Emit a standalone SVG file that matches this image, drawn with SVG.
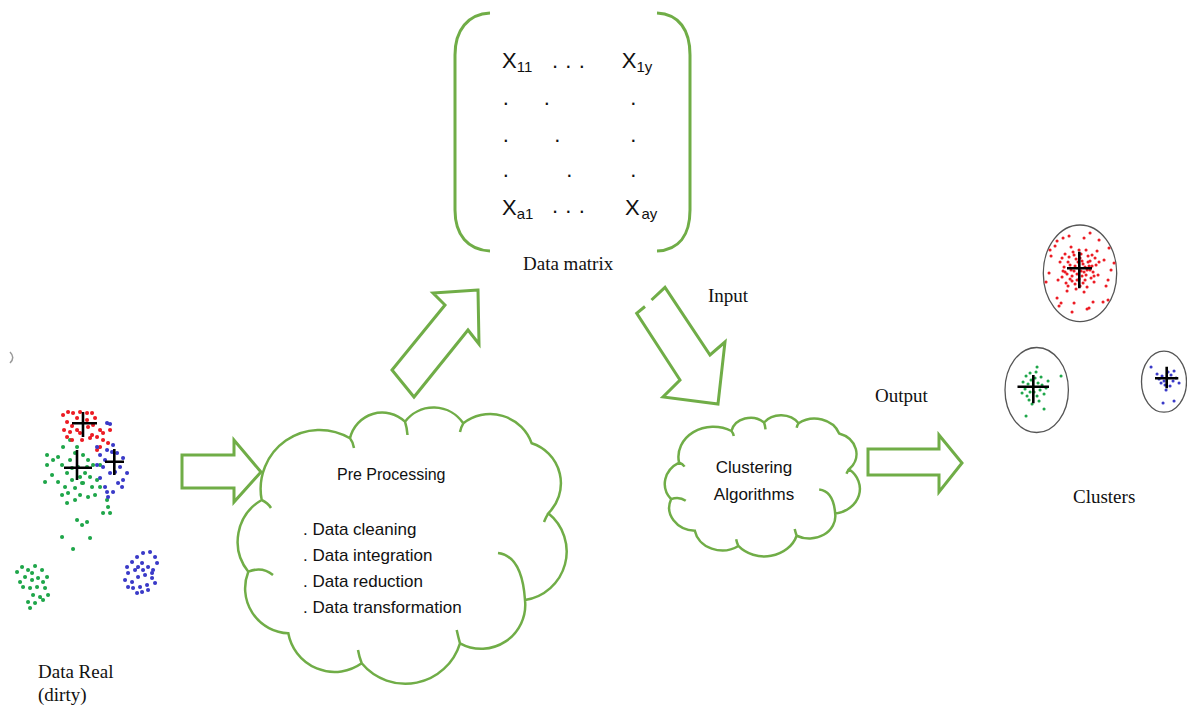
<svg xmlns="http://www.w3.org/2000/svg" xmlns:xlink="http://www.w3.org/1999/xlink" width="1187" height="708" viewBox="0 0 1187 708">
<style>
.gl{fill:#fff;stroke:#70AD47;stroke-width:3;stroke-linejoin:miter}
.cloud{fill:#fff;stroke:#70AD47;stroke-width:2.5}
.br{fill:none;stroke:#70AD47;stroke-width:3}
.serif{font-family:"Liberation Serif","Times New Roman",serif;font-size:19px;fill:#111}
.sans{font-family:"Liberation Sans",Arial,sans-serif;fill:#111}
.mx{font-family:"Liberation Sans",Arial,sans-serif;font-size:22px;fill:#111}
.dL{fill:none;stroke-width:4;stroke-linecap:round}
.dR{fill:none;stroke-width:3;stroke-linecap:round}
.red{stroke:#ec1c24}
.grn{stroke:#1fa64a}
.blu{stroke:#3a3ac8}
.cross{fill:none;stroke:#000;stroke-width:2.6}
.ell{fill:none;stroke:#555;stroke-width:1.3}
</style>
<defs>
<path id="cloudShape" vector-effect="non-scaling-stroke" d="M261.7 500A59 59 0 0 1 350 438.3A33 33 0 0 1 405 421.7A36 36 0 0 1 463.3 423.3A44 44 0 0 1 531.7 443.3A42 42 0 0 1 548.3 513.3A49 49 0 0 1 525 600A44 44 0 0 1 460 643.3A57 57 0 0 1 361.7 663.3A47 47 0 0 1 288.3 633.3A45 45 0 0 1 248.3 571.7A48 48 0 0 1 261.7 500Z M261.7 500Q268 503 271 508 M350 438.3Q353 442 354 448 M405 421.7Q407 428 407.5 435 M463.3 423.3Q461 427 460 432 M548.3 513.3Q546 517 544 522 M498 553Q522 556 525 600 M460 643.3Q458 636 456.7 630 M361.7 663.3Q359 656 358 650 M248.3 571.7Q262 566 273 575"/>
</defs>
<rect width="1187" height="708" fill="#fff"/>

<g id="connectors">
<path class="gl" d="M182 455H234V440L261 472L234 502V488H182Z"/>
<path class="gl" d="M478 290L433 293L445 305L392 370L414 397L468 330L479 344Z"/>
<path class="gl" d="M651.5 300L665 287.3L710 355L725 342L718 404L663 397L680 380L636.7 313.3L645 306.5"/>
<path class="gl" d="M868 449H939V435L962 463L939 492V475H868Z"/>
<text class="serif" x="708" y="302">Input</text>
<text class="serif" x="875" y="402">Output</text>
</g>

<g id="data-real">
<path d="M10 352Q15.5 357.5 10 363" fill="none" stroke="#999" stroke-width="1.5"/>
<path class="dL grn" d="M47 455h.1M47 465h.1M52 475h.1M45 482h.1M58 457h.1M63 447h.1M70 440h.1M62 465h.1M67 473h.1M58 482h.1M70 460h.1M75 453h.1M83 455h.1M88 460h.1M93 465h.1M85 473h.1M90 477h.1M80 477h.1M72 480h.1M65 487h.1M75 488h.1M83 483h.1M92 487h.1M97 480h.1M100 487h.1M68 493h.1M80 495h.1M88 497h.1M95 495h.1M67 503h.1M75 500h.1M107 500h.1M108 507h.1M103 513h.1M110 513h.1M77 520h.1M87 522h.1M82 525h.1M62 537h.1M90 538h.1M73 549h.1M53 460h.1M78 467h.1M72 468h.1M87 467h.1M82 483h.1M62 495h.1M100 465h.1M77 447h.1M17 572h.1M22 567h.1M28 570h.1M35 566h.1M42 570h.1M25 577h.1M32 580h.1M38 578h.1M43 582h.1M23 587h.1M30 588h.1M37 587h.1M45 588h.1M48 595h.1M40 597h.1M33 595h.1M28 602h.1M35 603h.1M43 600h.1M30 608h.1M20 582h.1M47 577h.1M32 573h.1"/>
<path class="dL red" d="M63 415h.1M68 412h.1M73 413h.1M80 412h.1M87 413h.1M92 413h.1M95 418h.1M67 422h.1M72 426h.1M64 430h.1M70 432h.1M77 430h.1M88 427h.1M93 425h.1M100 430h.1M110 430h.1M97 437h.1M92 435h.1M103 440h.1M108 443h.1M82 440h.1M80 433h.1M67 437h.1M100 447h.1M97 450h.1M72 440h.1M87 420h.1M77 418h.1M103 433h.1M90 438h.1"/>
<path class="dL blu" d="M107 423h.1M110 424h.1M107 450h.1M112 452h.1M117 453h.1M100 455h.1M105 460h.1M120 467h.1M127 473h.1M123 480h.1M118 483h.1M113 492h.1M107 492h.1M100 478h.1M110 473h.1M103 467h.1M115 472h.1M122 487h.1M108 497h.1M105 487h.1M97 465h.1M123 458h.1M97 447h.1M113 445h.1M127 567h.1M132 562h.1M137 557h.1M143 553h.1M150 552h.1M155 557h.1M157 563h.1M153 570h.1M148 567h.1M142 563h.1M135 570h.1M128 573h.1M125 580h.1M132 582h.1M138 577h.1M145 575h.1M152 578h.1M155 583h.1M147 585h.1M140 587h.1M133 588h.1M128 587h.1M137 593h.1M142 592h.1M148 590h.1M152 573h.1M143 570h.1M138 567h.1"/>
<path class="cross" d="M72 423.3H97M83 412V437M64 467.7H92M77 450V480M105 461.7H124M114.3 449V475"/>
<text class="serif" x="38" y="678">Data Real</text>
<text class="serif" x="38" y="701">(dirty)</text>
</g>

<g id="preprocessing">
<use xlink:href="#cloudShape" class="cloud"/>
<text class="sans" x="337" y="480" font-size="16">Pre Processing</text>
<text class="sans" x="303" y="535" font-size="17">. Data cleaning</text>
<text class="sans" x="303" y="561" font-size="17">. Data integration</text>
<text class="sans" x="303" y="587" font-size="17">. Data reduction</text>
<text class="sans" x="303" y="613" font-size="17">. Data transformation</text>
</g>

<g id="data-matrix">
<path class="br" d="M490 13C468 14 455 30 455 55V210C455 235 468 250 490 251"/>
<path class="br" d="M657 13C679 14 690 30 690 55V210C690 235 679 250 657 251"/>
<text class="mx" x="502" y="68">X<tspan font-size="15" dy="4">11</tspan></text>
<text class="mx" x="552 565.3 578.7" y="68">...</text>
<text class="mx" x="621.7" y="68">X<tspan font-size="15" dy="4">1y</tspan></text>
<text class="mx" x="502.7 543.7 630.3" y="105">...</text>
<text class="mx" x="502.7 554.3 630.3" y="141.5">...</text>
<text class="mx" x="502.7 566.3 630.3" y="177">...</text>
<text class="mx" x="502" y="215">X<tspan font-size="15" dy="4">a1</tspan></text>
<text class="mx" x="552 565.3 578.7" y="213">...</text>
<text class="mx" x="625" y="215">X<tspan font-size="15" dy="4" x="641.5">ay</tspan></text>
<text class="serif" x="523" y="270">Data matrix</text>
</g>

<g id="clustering">
<use xlink:href="#cloudShape" class="cloud" transform="translate(665 415) scale(0.593 0.511) translate(-238 -407)"/>
<text class="sans" x="754" y="473" font-size="17" text-anchor="middle">Clustering</text>
<text class="sans" x="754" y="500" font-size="17" text-anchor="middle">Algorithms</text>
</g>

<g id="clusters">
<ellipse class="ell" cx="1080" cy="273.3" rx="36.7" ry="48.3"/>
<ellipse class="ell" cx="1036.7" cy="390" rx="31.7" ry="42.5"/>
<ellipse class="ell" cx="1164" cy="381.7" rx="22.5" ry="30.5"/>
<path class="dR red" d="M1079 268h.1M1074 271h.1M1083 264h.1M1087 270h.1M1070 265h.1M1082 276h.1M1076 259h.1M1090 261h.1M1067 274h.1M1085 280h.1M1072 281h.1M1093 272h.1M1064 267h.1M1081 254h.1M1088 256h.1M1069 257h.1M1091 278h.1M1075 284h.1M1096 265h.1M1062 277h.1M1080 286h.1M1086 250h.1M1066 283h.1M1094 282h.1M1073 252h.1M1098 275h.1M1060 262h.1M1084 272h.1M1077 274h.1M1089 266h.1M1071 270h.1M1082 261h.1M1092 255h.1M1065 254h.1M1079 279h.1M1095 258h.1M1068 286h.1M1087 287h.1M1063 271h.1M1097 251h.1M1055 246h.1M1099 240h.1M1049 273h.1M1106 286h.1M1057 298h.1M1104 260h.1M1051 256h.1M1084 238h.1M1069 236h.1M1109 248h.1M1059 306h.1M1093 302h.1M1050 250h.1M1090 233h.1M1046 282h.1M1108 300h.1M1074 303h.1M1111 270h.1M1057 241h.1M1089 308h.1M1063 238h.1M1114 263h.1M1061 303h.1M1072 312h.1M1087 309h.1M1103 302h.1M1108 280h.1M1078 262h.1M1081 271h.1M1075 266h.1M1085 267h.1M1072 276h.1M1080 258h.1M1086 275h.1M1068 262h.1M1090 270h.1M1077 280h.1M1083 283h.1M1074 255h.1M1088 262h.1M1070 279h.1M1092 266h.1M1065 272h.1M1079 250h.1M1094 276h.1M1076 289h.1M1084 292h.1M1067 291h.1M1071 247h.1M1062 258h.1M1099 262h.1M1058 280h.1"/>
<path class="dR grn" d="M1033 387h.1M1028 384h.1M1038 383h.1M1030 392h.1M1040 390h.1M1025 389h.1M1035 378h.1M1042 385h.1M1027 396h.1M1037 396h.1M1031 380h.1M1044 394h.1M1023 382h.1M1039 401h.1M1029 400h.1M1036 372h.1M1041 377h.1M1026 376h.1M1034 392h.1M1046 388h.1M1022 393h.1M1037 367h.1M1061 376h.1M1026 416h.1M1044 409h.1M1032 404h.1M1048 381h.1M1030 373h.1"/>
<path class="dR blu" d="M1167 378h.1M1162 376h.1M1171 375h.1M1164 381h.1M1173 381h.1M1159 379h.1M1168 372h.1M1176 378h.1M1161 383h.1M1170 386h.1M1165 385h.1M1157 374h.1M1174 371h.1M1179 383h.1M1151 367h.1M1163 403h.1M1174 401h.1M1166 390h.1"/>
<path class="cross" d="M1067 268.3H1092M1079.3 251.7V288.3M1017.5 386.7H1049M1033.3 375V403.3M1155 378.3H1178.3M1166.7 366.7V388.3"/>
<text class="serif" x="1073" y="503">Clusters</text>
</g>
</svg>
